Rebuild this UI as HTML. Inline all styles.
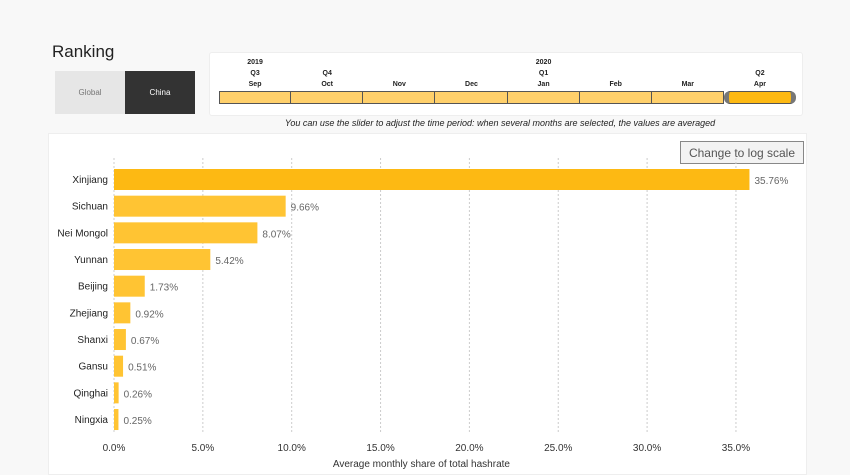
<!DOCTYPE html>
<html><head><meta charset="utf-8"><style>
body{margin:0;width:850px;height:471px;background:#f8f8f8;font-family:"Liberation Sans",sans-serif;position:relative;overflow:hidden}
.abs{position:absolute}
</style></head><body>
<div class="abs" style="left:52px;top:42px;font-size:17px;color:#222">Ranking</div>
<div class="abs" style="left:55px;top:71px;width:70px;height:43px;background:#e6e6e6;font-size:8px;color:#777;display:flex;align-items:center;justify-content:center">Global</div>
<div class="abs" style="left:125px;top:71px;width:70px;height:43px;background:#333;font-size:8px;color:#fff;display:flex;align-items:center;justify-content:center">China</div>
<div class="abs" style="left:209px;top:52px;width:592px;height:62px;background:#fff;border:1px solid #eee;border-radius:3px"></div>
<div id="slider" class="abs" style="left:219px;top:91px;width:577px;height:13px"></div>
<div class="abs" style="left:200px;top:118px;width:600px;text-align:center;font-size:9px;font-style:italic;color:#222">You can use the slider to adjust the time period: when several months are selected, the values are averaged</div>
<div class="abs" style="left:48px;top:133px;width:757px;height:340px;background:#fff;border:1px solid #eee"></div>
<div class="abs" style="left:680px;top:141px;width:122px;height:21px;border:1px solid #888;background:#f3f3f3;font-size:12px;color:#555;display:flex;align-items:center;justify-content:center">Change to log scale</div>
<svg id="chart" class="abs" style="left:0;top:0" width="850" height="471"></svg>
<script>
const months=["Sep","Oct","Nov","Dec","Jan","Feb","Mar","Apr"];
const quarters=["Q3","Q4","","","Q1","","","Q2"];
const years=["2019","","","","2020","","",""];
const sl=document.getElementById('slider');
const NS="http://www.w3.org/2000/svg";
const segW=577/8;
months.forEach((m,i)=>{
 const d=document.createElement('div');
 
 
 d.style.cssText=`position:absolute;left:${i*segW}px;top:0;width:${segW}px;height:13px;box-sizing:border-box;border:1px solid #555;border-left:${i?0:1}px solid #555;background:${i==7?'#fdb913':'#ffd06b'}`;
 if(i==7){d.style.borderRadius='6px';d.style.borderLeft='5px solid #777';d.style.borderRight='5px solid #777';}
 sl.appendChild(d);
 const lab=[years[i],quarters[i],m];
 lab.forEach((t,j)=>{if(!t)return;const e=document.createElement('div');
 
 
 e.style.cssText=`position:absolute;left:${219+i*segW+segW/2-40}px;width:80px;text-align:center;top:${59+j*11}px;font-size:7px;font-weight:bold;color:#222`;
 e.textContent=t;document.body.appendChild(e);});
});
const regions=["Xinjiang","Sichuan","Nei Mongol","Yunnan","Beijing","Zhejiang","Shanxi","Gansu","Qinghai","Ningxia"];
const shares=[35.76,9.66,8.07,5.42,1.73,0.92,0.67,0.51,0.26,0.25];
const ticks=[0,5,10,15,20,25,30,35];
const svg=document.getElementById('chart');
const x=v=>114+v*17.77;
const y=i=>169+i*26.67;
function mk(tag,a,txt){const e=document.createElementNS(NS,tag);for(const k in a)e.setAttribute(k,a[k]);if(txt!=null)e.textContent=txt;svg.appendChild(e);return e;}
ticks.forEach(t=>{
 const g=mk('line',{x1:x(t),x2:x(t),y1:158,y2:432,stroke:'#ccc','stroke-dasharray':'2,2'});
 
 const l=mk('text',{x:x(t),y:451,'text-anchor':'middle','font-size':10,fill:'#333'},t.toFixed(1)+'%');
 
});
regions.forEach((r,i)=>{
 const b=mk('rect',{x:x(0),y:y(i),width:x(shares[i])-x(0),height:21,fill:i==0?'#fdb913':'#ffc433'});
 
 const l=mk('text',{x:108,y:y(i)+14,'text-anchor':'end','font-size':10,fill:'#222'},r);
 
 const v=mk('text',{x:x(shares[i])+5,y:y(i)+15,'font-size':10,fill:'#666'},shares[i].toFixed(2)+'%');
 
});
const t=mk('text',{x:x(17.3),y:467,'text-anchor':'middle','font-size':10,fill:'#333'},'Average monthly share of total hashrate');

</script>
</body></html>
